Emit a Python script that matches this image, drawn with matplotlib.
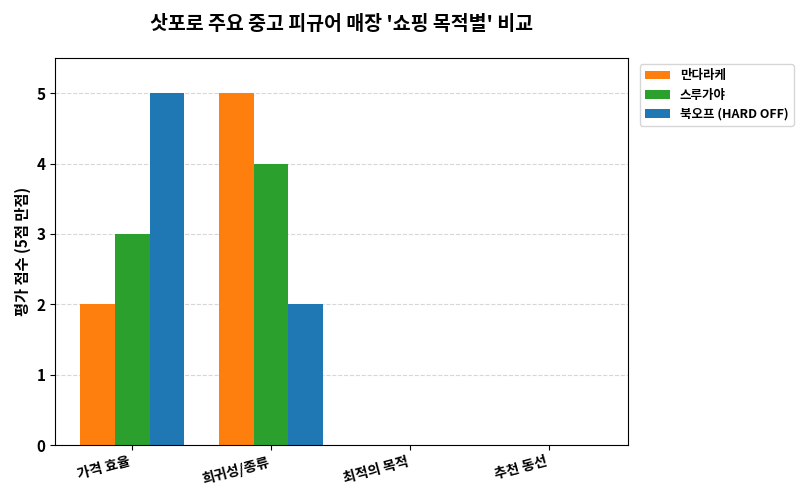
import matplotlib
matplotlib.use("Agg")
import matplotlib.pyplot as plt
import numpy as np

plt.rcParams['font.family'] = ['Noto Sans CJK KR', 'DejaVu Sans']

categories = ["가격 효율", "희귀성/종류", "최적의 목적", "추천 동선"]
stores = ["만다라케", "스루가야", "북오프 (HARD OFF)"]
scores = {
    "만다라케": [2, 5, 0, 0],
    "스루가야": [3, 4, 0, 0],
    "북오프 (HARD OFF)": [5, 2, 0, 0],
}
colors = ["#ff7f0e", "#2ca02c", "#1f77b4"]

fig, ax = plt.subplots(figsize=(8, 5), dpi=100)
fig.subplots_adjust(left=0.069, right=0.785, top=0.884, bottom=0.11)

x = np.arange(len(categories))
width = 0.25
for i, (name, c) in enumerate(zip(stores, colors)):
    ax.bar(x + (i - 1) * width, scores[name], width, color=c, label=name, zorder=2)

ax.set_ylim(0, 5.5)
ax.set_xlim(-0.555, 3.57)
ax.set_xticks(x, categories, rotation=15, ha="right", fontweight="bold", fontsize=10)
ax.tick_params(axis="y", labelsize=11)
for t in ax.get_yticklabels():
    t.set_fontweight("bold")
ax.set_ylabel("평가 점수 (5점 만점)", fontweight="bold", fontsize=11)
ax.set_title("삿포로 주요 중고 피규어 매장 '쇼핑 목적별' 비교", fontweight="bold", fontsize=14, pad=20)
ax.grid(axis="y", linestyle="--", alpha=0.5, zorder=0)

leg = ax.legend(loc="upper left", bbox_to_anchor=(1.01, 1.0), fontsize=9)
for t in leg.get_texts():
    t.set_fontweight("bold")

fig.savefig("out.png")
